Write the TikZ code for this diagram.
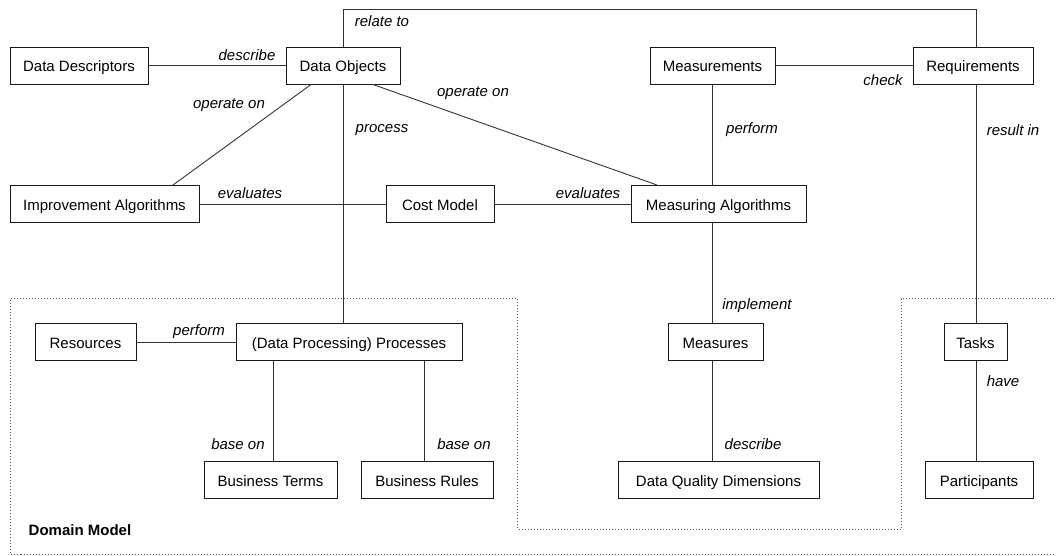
\documentclass[tikz,border=0pt]{standalone}
\usepackage{fontspec}
\setmainfont{Liberation Sans}
\begin{document}
\begin{tikzpicture}[x=1pt,y=-1pt,
  font=\fontsize{15}{18}\selectfont,
  entity/.style={draw=black!90, line width=1pt, minimum height=37pt, inner sep=0pt,
    text height=12pt, text depth=0pt, fill=white},
  rel/.style={draw=black!80, line width=0.9pt},
  lbl/.style={inner sep=0pt, font=\fontsize{15}{18}\selectfont\itshape},
  area/.style={draw=black!65, line width=0.8pt, dash pattern=on 1pt off 2pt}]
\useasboundingbox (0,0) rectangle (1056,555);

% domain model outline (open to the right)
\draw[area] (1060,298.5) -- (901,298.5) -- (901,529) -- (517.5,529) -- (517.5,298.5)
  -- (10.5,298.5) -- (10.5,554) -- (1060,554);

% entities
\node[entity, minimum width=138pt] (dd) at (79,65.5) {Data Descriptors};
\node[entity, minimum width=114pt] (do) at (343,65.5) {Data Objects};
\node[entity, minimum width=125pt] (ms) at (712.5,65.5) {Measurements};
\node[entity, minimum width=120pt] (rq) at (973,65.5) {Requirements};
\node[entity, minimum width=189pt] (ia) at (104.5,204) {Improvement Algorithms};
\node[entity, minimum width=108pt] (cm) at (440,204) {Cost Model};
\node[entity, minimum width=175pt] (ma) at (718.5,204) {Measuring Algorithms};
\node[entity, minimum width=101pt] (rs) at (85.5,342) {Resources};
\node[entity, minimum width=226pt] (pr) at (349,342) {(Data Processing) Processes};
\node[entity, minimum width=95pt] (me) at (715.5,342) {Measures};
\node[entity, minimum width=63pt] (tk) at (975.5,342) {Tasks};
\node[entity, minimum width=133pt] (bt) at (270.5,480) {Business Terms};
\node[entity, minimum width=132pt] (br) at (427,480) {Business Rules};
\node[entity, minimum width=201pt] (dq) at (718.5,480) {Data Quality Dimensions};
\node[entity, minimum width=108pt] (pa) at (979,480) {Participants};

\coordinate (top) at (976,9.5);

% relationships
\draw[rel] (dd.east) -- (do.west);
\draw[rel] (do.north) |- (top) -- (top |- rq.north);
\draw[rel] (ms.east) -- (rq.west);
\draw[rel] ([xshift=-32pt]do.south) -- ([xshift=68.5pt]ia.north);
\draw[rel] ([xshift=30pt]do.south) -- ([xshift=-61.5pt]ma.north);
\draw[rel] (do.south) -- (do.south |- pr.north);
\draw[rel] (ia.east) -- (cm.west);
\draw[rel] (cm.east) -- (ma.west);
\draw[rel] (ms.south) -- (ms.south |- ma.north);
\draw[rel] (ms.south |- ma.south) -- (ms.south |- me.north);
\draw[rel] (ms.south |- me.south) -- (ms.south |- dq.north);
\draw[rel] (top |- rq.south) -- (top |- tk.north);
\draw[rel] (top |- tk.south) -- (top |- pa.north);
\draw[rel] (rs.east) -- (pr.west);
\draw[rel] ([xshift=-76pt]pr.south) -- ([xshift=2.5pt]bt.north);
\draw[rel] ([xshift=75pt]pr.south) -- ([xshift=-3pt]br.north);

% relationship labels
\node[lbl] (l1) at (382,21) {relate to};
\node[lbl] (l2) at (247,55) {describe};
\node[lbl] (l3) at (229,105) {operate on};
\node[lbl] (l4) at (382,130) {process};
\node[lbl] (l5) at (473,93) {operate on};
\node[lbl] (l6) at (752,130) {perform};
\node[lbl] (l7) at (883,80) {check};
\node[lbl] (l8) at (1013,130) {result in};
\node[lbl] (l9) at (250,193) {evaluates};
\node[lbl] (l10) at (588,193) {evaluates};
\node[lbl] (l11) at (757,306) {implement};
\node[lbl] (l12) at (199,332) {perform};
\node[lbl] (l13) at (238,444) {base on};
\node[lbl] (l14) at (464,444) {base on};
\node[lbl] (l15) at (753,444) {describe};
\node[lbl] (l16) at (1003,381) {have};
\node[inner sep=0pt, font=\fontsize{15}{18}\selectfont\bfseries] (dm) at (80,530) {Domain Model};
\end{tikzpicture}
\end{document}
